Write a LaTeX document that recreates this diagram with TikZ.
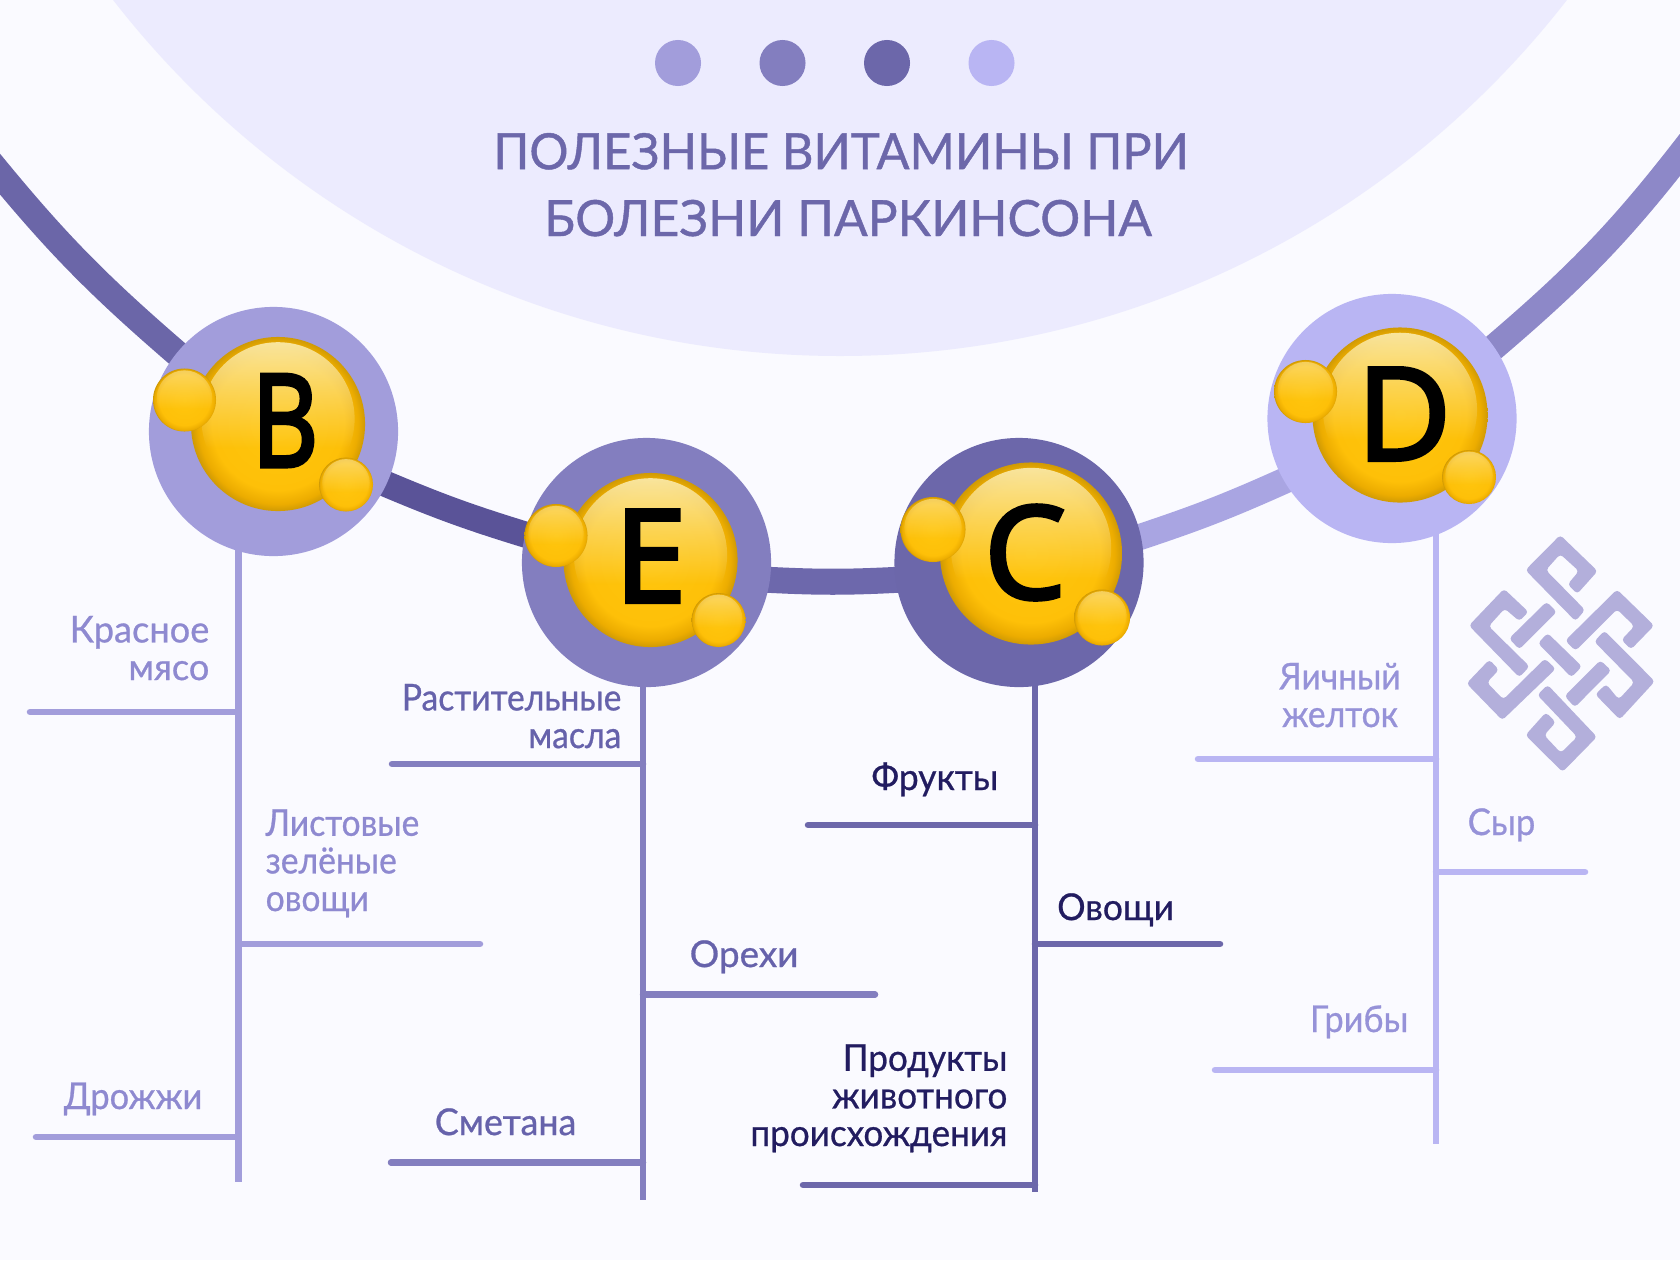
\documentclass[tikz,border=0pt]{standalone}
\usepackage{fontspec}
\setmainfont[FakeBold=0.7]{Lato}
\newfontfamily\titlefont[FakeBold=0.9]{Lato}
\newfontfamily\letterfont[FakeBold=3.4]{Open Sans}
\usetikzlibrary{backgrounds,fadings}
\definecolor{PageBg}{RGB}{250,250,255}
\definecolor{DomeBg}{RGB}{236,235,254}
\definecolor{RingB}{RGB}{162,157,219}
\definecolor{RingE}{RGB}{131,126,191}
\definecolor{RingC}{RGB}{108,103,170}
\definecolor{RingD}{RGB}{185,181,243}
\definecolor{BandW}{RGB}{107,102,168}
\definecolor{BandBE}{RGB}{90,83,152}
\definecolor{BandEC}{RGB}{109,104,172}
\definecolor{BandCD}{RGB}{169,165,226}
\definecolor{BandDE}{RGB}{141,136,200}
\definecolor{TextB}{RGB}{142,137,208}
\definecolor{TextE}{RGB}{102,98,171}
\definecolor{TextC}{RGB}{34,28,96}
\definecolor{TextD}{RGB}{150,146,216}
\definecolor{KnotFill}{RGB}{179,175,219}
\definecolor{GoldRim}{RGB}{208,154,4}
\definecolor{GoldEdge}{RGB}{236,172,0}
\definecolor{GoldBody}{RGB}{254,192,8}
\definecolor{GoldMid}{RGB}{255,198,14}
\definecolor{GoldPale}{RGB}{250,232,165}
\pgfdeclareradialshading{goldcore}{\pgfpoint{0bp}{0bp}}{color(0bp)=(GoldMid); color(19bp)=(GoldBody);
  color(23bp)=(GoldEdge); color(25bp)=(GoldRim); color(50bp)=(GoldRim)}
\pgfdeclareradialshading{goldbead}{\pgfpoint{0bp}{0bp}}{color(0bp)=(GoldMid); color(20bp)=(GoldBody);
  color(24bp)=(GoldEdge); color(25bp)=(GoldRim); color(50bp)=(GoldRim)}
\pgfdeclareverticalshading{glossmask}{100bp}{color(0bp)=(black); color(43bp)=(black);
  color(58bp)=(black!55!white); color(75bp)=(white); color(100bp)=(white)}
\pgfdeclarefading{gloss}{\pgfuseshading{glossmask}}
\tikzset{
  ring/.style={circle,fill=#1,inner sep=0pt,minimum size=2.49cm},
  dot/.style={circle,fill=#1,inner sep=0pt,minimum size=0.46cm},
  goldball/.style={circle,shading=goldcore,inner sep=0pt,minimum size=#1 cm,
    path picture={\fill[GoldPale,path fading=gloss] ([yshift=#1*0.03cm]path picture bounding box.center)
      circle[radius=#1*0.44cm];}},
  smallball/.style={circle,shading=goldbead,inner sep=0pt,minimum size=#1 cm,
    path picture={\fill[GoldPale,opacity=0.6,path fading=gloss] ([yshift=#1*0.03cm]path picture bounding box.center)
      circle[radius=#1*0.44cm];}},
  vitletter/.style={inner sep=0pt,font=\letterfont\fontsize{36.5}{36.5}\selectfont},
  band/.style={line width=0.26cm,#1},
  stem/.style={line width=0.065cm,#1},
  twig/.style={line width=0.065cm,line cap=round,#1},
  food/.style={inner sep=0pt,text=#1,align=right},
  squeeze/.style={font=\fontsize{10.5}{10.7}\selectfont\addfontfeature{FakeStretch=#1}},
  knot/.style={fill=KnotFill,rounded corners=1pt}
}
\begin{document}
\begin{tikzpicture}[x=0.01cm,y=-0.01cm]
  \useasboundingbox (0,0) rectangle (1680,1260);
  % rings and capsules
  \node[ring=RingB] (ringB) at (273.5,431.5) {};
  \node[ring=RingE] (ringE) at (646.5,562.5) {};
  \node[ring=RingC] (ringC) at (1019,562.5) {};
  \node[ring=RingD] (ringD) at (1392,418.5) {};
  \node[goldball=1.74] (goldB) at (278,424) {};
  \node[goldball=1.74] (goldE) at (650.5,560) {};
  \node[goldball=1.82] (goldC) at (1031,553.5) {};
  \node[goldball=1.75] (goldD) at (1400,415) {};
  \node[vitletter] (letterB) at (285,420.5) {\scalebox{0.8}[1]{B}};
  \node[vitletter] (letterE) at (650.5,556) {E};
  \node[vitletter] (letterC) at (1025,552.5) {C};
  \node[vitletter] (letterD) at (1404,414) {D};
  \node[smallball=0.63] (ballBa) at (184.5,400) {};
  \node[smallball=0.54] (ballBb) at (346,484.5) {};
  \node[smallball=0.63] (ballEa) at (556,535.5) {};
  \node[smallball=0.54] (ballEb) at (718.5,620) {};
  \node[smallball=0.65] (ballCa) at (933,529.5) {};
  \node[smallball=0.56] (ballCb) at (1102,617.5) {};
  \node[smallball=0.63] (ballDa) at (1305.5,391.5) {};
  \node[smallball=0.54] (ballDb) at (1469,477) {};
  % ends of the stems and of the twigs
  \coordinate (stemB) at (238.5,1182);
  \coordinate (stemE) at (643,1200);
  \coordinate (stemC) at (1035,1192);
  \coordinate (stemD) at (1436,1144);
  \coordinate (twigBa) at (30,712);
  \coordinate (twigBb) at (480,944);
  \coordinate (twigBc) at (36,1137);
  \coordinate (twigEa) at (392,764);
  \coordinate (twigEb) at (875,994.5);
  \coordinate (twigEc) at (391,1162.5);
  \coordinate (twigCa) at (808,825);
  \coordinate (twigCb) at (1220,944);
  \coordinate (twigCc) at (803,1185);
  \coordinate (twigDa) at (1198,759);
  \coordinate (twigDb) at (1585,872);
  \coordinate (twigDc) at (1215,1070);
  \coordinate (bandWest) at (-10,162);
  \coordinate (bandEast) at (1690,142);
  \begin{scope}[on background layer]
    \fill[PageBg] (0,0) rectangle (1680,1260);
    \fill[DomeBg] (840,-564) circle[radius=920];
    \draw[band=BandW,shorten >=-0.08cm] (bandWest) to[bend right=5] (ringB.141);
    \draw[band=BandBE,shorten <=-0.08cm,shorten >=-0.08cm] (ringB.-25) to[bend right=3] (ringE.167);
    \draw[band=BandEC,shorten <=-0.08cm,shorten >=-0.08cm] (ringE.-8) to[bend right=3] (ringC.-172);
    \draw[band=BandCD,shorten <=-0.08cm,shorten >=-0.08cm] (ringC.12) to[bend right=3] (ringD.210);
    \draw[band=BandDE,shorten <=-0.08cm] (ringD.35) to[bend right=6] (bandEast);
    \draw[stem=RingB] (stemB |- ringB) -- (stemB);
    \draw[stem=RingE] (stemE |- ringE) -- (stemE);
    \draw[stem=RingC] (stemC |- ringC) -- (stemC);
    \draw[stem=RingD] (stemD |- ringD) -- (stemD);
    \draw[twig=RingB] (twigBa) -- (twigBa -| stemB);
    \draw[twig=RingB] (twigBb) -- (twigBb -| stemB);
    \draw[twig=RingB] (twigBc) -- (twigBc -| stemB);
    \draw[twig=RingE] (twigEa) -- (twigEa -| stemE);
    \draw[twig=RingE] (twigEb) -- (twigEb -| stemE);
    \draw[twig=RingE] (twigEc) -- (twigEc -| stemE);
    \draw[twig=RingC] (twigCa) -- (twigCa -| stemC);
    \draw[twig=RingC] (twigCb) -- (twigCb -| stemC);
    \draw[twig=RingC] (twigCc) -- (twigCc -| stemC);
    \draw[twig=RingD] (twigDa) -- (twigDa -| stemD);
    \draw[twig=RingD] (twigDb) -- (twigDb -| stemD);
    \draw[twig=RingD] (twigDc) -- (twigDc -| stemD);
  \end{scope}
  % head
  \node[dot=RingB] (dotB) at (678,63) {};
  \node[dot=RingE] (dotE) at (782.5,63) {};
  \node[dot=RingC] (dotC) at (887,63) {};
  \node[dot=RingD] (dotD) at (991.5,63) {};
  \node[anchor=base,inner sep=0pt,align=center,text=RingC,font=\titlefont\fontsize{14.2}{19}\selectfont] (title) at (841,236)
    {\addfontfeature{FakeStretch=0.98}ПОЛЕЗНЫЕ ВИТАМИНЫ ПРИ\\\hspace*{0.14cm}БОЛЕЗНИ ПАРКИНСОНА};
  % labels
  \node[food=TextB,squeeze=0.98,anchor=base east] (foodBa) at (210,680) {Красное\\мясо};
  \node[food=TextB,squeeze=0.91,anchor=base west,align=left] (foodBb) at (265,911) {Листовые\\зелёные\\овощи};
  \node[food=TextB,squeeze=0.93,anchor=base east] (foodBc) at (203,1109) {Дрожжи};
  \node[food=TextE,squeeze=0.91,anchor=base east] (foodEa) at (622,748) {Растительные\\масла};
  \node[food=TextE,squeeze=1.0,anchor=base west] (foodEb) at (689,967) {Орехи};
  \node[food=TextE,squeeze=0.97,anchor=base east] (foodEc) at (577,1135) {Сметана};
  \node[food=TextC,squeeze=0.96,anchor=base east] (foodCa) at (999,790) {Фрукты};
  \node[food=TextC,squeeze=0.96,anchor=base west] (foodCb) at (1056.5,920) {Овощи};
  \node[food=TextC,squeeze=0.95,anchor=base east] (foodCc) at (1008,1146) {Продукты\\животного\\происхождения};
  \node[food=TextD,squeeze=0.91,anchor=base,align=center] (foodDa) at (1340,727) {Яичный\\желток};
  \node[food=TextD,squeeze=0.94,anchor=base west] (foodDb) at (1467,835) {Сыр};
  \node[food=TextD,squeeze=0.93,anchor=base east] (foodDc) at (1409,1032) {Грибы};
  % knot
  \begin{scope}[shift={(1437.6,517.3)},x=0.0034cm,y=-0.0034cm]
    \fill[knot] (360,52) -- (470,158) -- (410,225) -- (382,197) -- (415,158) -- (360,108) -- (318,155) -- (433,272) -- (405,305) -- (258,155) -- cycle;
    \fill[knot] (195,210) -- (267,278) -- (240,305) -- (197,268) -- (150,320) -- (270,438) -- (240,470) -- (92,318) -- cycle;
    \fill[knot] (320,248) -- (350,278) -- (240,388) -- (210,356) -- cycle;
    \fill[knot] (323,340) -- (424,438) -- (393,470) -- (295,370) -- cycle;
    \fill[knot] (527,212) -- (636,318) -- (568,388) -- (540,360) -- (578,320) -- (527,270) -- (405,392) -- (375,362) -- cycle;
    \fill[knot] (490,333) -- (638,482) -- (535,594) -- (463,520) -- (495,490) -- (532,535) -- (578,485) -- (460,365) -- cycle;
    \fill[knot] (478,420) -- (510,450) -- (403,558) -- (373,525) -- cycle;
    \fill[knot] (152,418) -- (180,448) -- (145,485) -- (193,535) -- (315,415) -- (347,445) -- (190,596) -- (85,488) -- cycle;
    \fill[knot] (323,492) -- (468,645) -- (367,748) -- (258,640) -- (318,573) -- (347,602) -- (313,640) -- (362,692) -- (410,645) -- (293,522) -- cycle;
  \end{scope}
\end{tikzpicture}
\end{document}
